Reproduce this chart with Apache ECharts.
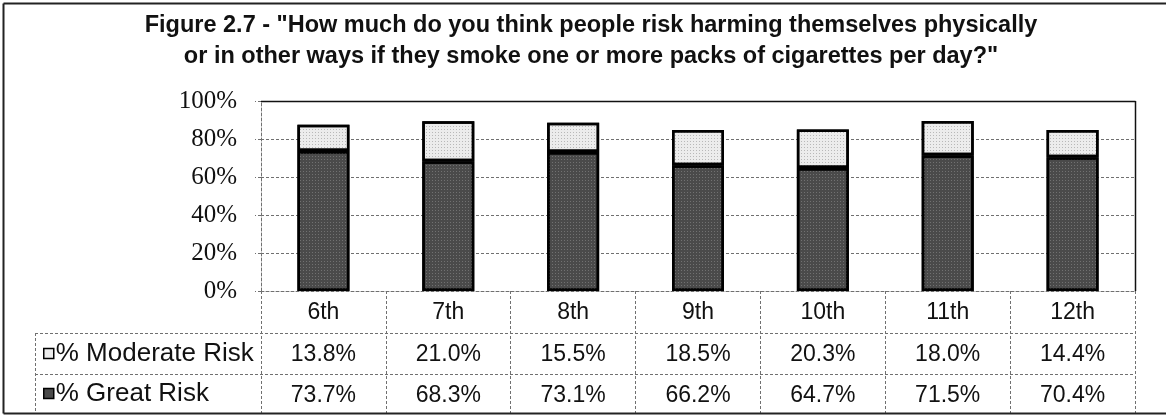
<!DOCTYPE html>
<html><head><meta charset="utf-8">
<script src="https://cdn.jsdelivr.net/npm/echarts@6/dist/echarts.min.js"></script>
<style>html,body{margin:0;padding:0;background:#fff}#c{width:1166px;height:416px}</style>
</head><body><div id="c"></div>
<script>
const categories = ['6th', '7th', '8th', '9th', '10th', '11th', '12th'];
const moderateRisk = [13.8, 21.0, 15.5, 18.5, 20.3, 18.0, 14.4];
const greatRisk = [73.7, 68.3, 73.1, 66.2, 64.7, 71.5, 70.4];
const yTicks = [0, 20, 40, 60, 80, 100];
const seriesNames = ['% Moderate Risk', '% Great Risk'];
const titleLines = [
  'Figure 2.7 - "How much do you think people risk harming themselves physically',
  'or in other ways if they smoke one or more packs of cigarettes per day?"'
];

const W = 1166, H = 416;
const G = { left: 261, right: 1135, top: 101, bottom: 291 };
const ROW = [291, 333, 374, 413];
const SANS = '"Liberation Sans", Arial, sans-serif';
const SERIF = '"Liberation Serif", "Times New Roman", serif';
const dotted = { color: '#707070', width: 1, type: [3, 2] };
const fmt = v => v.toFixed(1) + '%';

const chart = echarts.init(document.getElementById('c'), null, { renderer: 'canvas' });

function tableAxis(values, offset) {
  return {
    type: 'category', data: categories, position: 'bottom', offset: offset,
    gridIndex: 0,
    axisLine: { show: false }, axisTick: { show: false },
    axisLabel: {
      margin: 10, fontSize: 23, fontFamily: SANS, color: '#111',
      formatter: (val, idx) => fmt(values[idx])
    }
  };
}

const line = (x1, y1, x2, y2, style) => ({
  type: 'line', silent: true, z: 100,
  shape: { x1, y1, x2, y2 }, style: Object.assign({ fill: null }, style)
});

const legendBase = {
  left: 43, padding: 0, icon: 'rect', itemWidth: 10, itemHeight: 10, selectedMode: false,
  itemStyle: { borderWidth: 1.5, decal: 'none' },
  textStyle: { fontSize: 26, lineHeight: 26, fontFamily: SANS, color: '#111', padding: [0, 0, 0, -3] }
};

chart.setOption({
  animation: false,
  backgroundColor: '#fff',
  grid: { left: G.left, right: W - G.right, top: G.top, bottom: H - G.bottom, containLabel: false },
  xAxis: [
    {
      type: 'category', data: categories, position: 'bottom',
      axisLine: { show: true, lineStyle: dotted },
      axisTick: { show: true, length: ROW[3] - ROW[0], lineStyle: dotted },
      axisLabel: { margin: 10, fontSize: 23, fontFamily: SANS, color: '#111' },
      splitLine: { show: false }
    },
    tableAxis(moderateRisk, ROW[1] - ROW[0]),
    tableAxis(greatRisk, ROW[2] - ROW[0])
  ],
  yAxis: {
    type: 'value', min: yTicks[0], max: yTicks[yTicks.length - 1], interval: yTicks[1] - yTicks[0],
    axisLine: { show: true, lineStyle: dotted },
    axisTick: { show: true, length: 6, lineStyle: dotted },
    splitLine: { show: true, lineStyle: dotted },
    axisLabel: { margin: 24, fontSize: 25, fontFamily: SERIF, color: '#111', formatter: '{value}%' }
  },
  legend: [
    Object.assign({}, legendBase, { data: [seriesNames[0]], top: (ROW[1] + ROW[2]) / 2 - 13 }),
    Object.assign({}, legendBase, { data: [seriesNames[1]], top: (ROW[2] + ROW[3]) / 2 - 13 })
  ],
  series: [
    {
      name: seriesNames[1], type: 'bar', stack: 'risk', data: greatRisk, barWidth: 52,
      itemStyle: {
        color: '#4a4a4a', borderColor: '#000', borderWidth: 2.5,
        decal: { symbol: 'rect', symbolSize: 1, dashArrayX: [1, 2], dashArrayY: [1, 2], color: 'rgba(255,255,255,0.22)' }
      }
    },
    {
      name: seriesNames[0], type: 'bar', stack: 'risk', data: moderateRisk, barWidth: 52,
      itemStyle: {
        color: '#ececec', borderColor: '#000', borderWidth: 2.5,
        decal: { symbol: 'rect', symbolSize: 1, dashArrayX: [1, 2], dashArrayY: [1, 2], color: 'rgba(0,0,0,0.22)' }
      }
    }
  ],
  graphic: [
    line(3.5, 3.5, W + 10, 3.5, { stroke: '#222', lineWidth: 2 }),
    line(3.5, 3.5, 3.5, 413.5, { stroke: '#222', lineWidth: 2 }),
    line(3.5, 413.5, W + 10, 413.5, { stroke: '#222', lineWidth: 2 }),
    line(G.left, G.top + 0.5, G.right + 0.5, G.top + 0.5, { stroke: '#111', lineWidth: 1.5 }),
    line(G.right + 0.5, G.top, G.right + 0.5, G.bottom, { stroke: '#111', lineWidth: 1.5 }),
    line(35, ROW[1] + 0.5, G.right, ROW[1] + 0.5, { stroke: dotted.color, lineWidth: 1, lineDash: [3, 2] }),
    line(35, ROW[2] + 0.5, G.right, ROW[2] + 0.5, { stroke: dotted.color, lineWidth: 1, lineDash: [3, 2] }),
    line(35.5, ROW[1], 35.5, ROW[3], { stroke: dotted.color, lineWidth: 1, lineDash: [3, 2] }),
    {
      type: 'text', silent: true, x: 591, y: 26,
      style: { text: titleLines[0], font: 'bold 23.5px ' + SANS, fill: '#111', textAlign: 'center', textVerticalAlign: 'middle' }
    },
    {
      type: 'text', silent: true, x: 591, y: 57,
      style: { text: titleLines[1], font: 'bold 23.5px ' + SANS, fill: '#111', textAlign: 'center', textVerticalAlign: 'middle' }
    }
  ]
});
</script>
</body></html>
